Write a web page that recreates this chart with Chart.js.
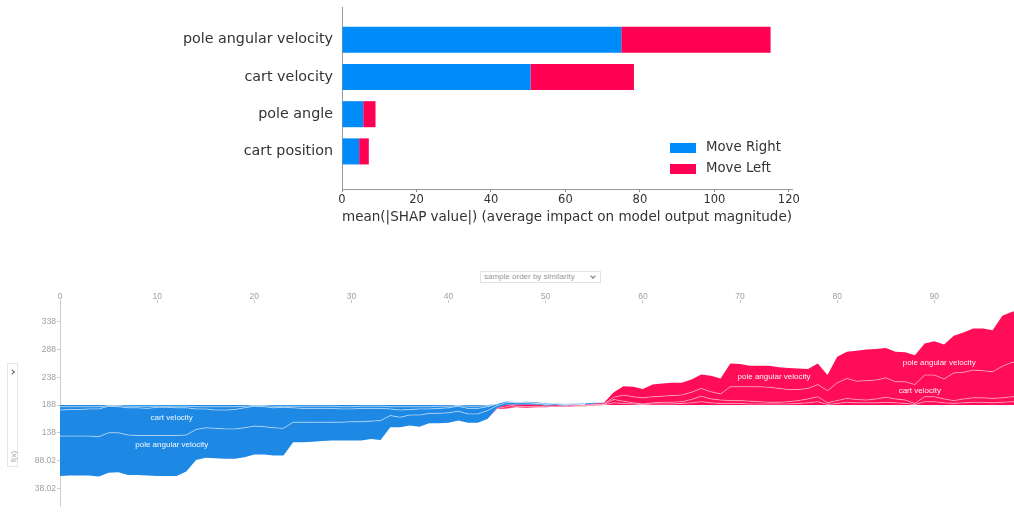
<!DOCTYPE html>
<html>
<head>
<meta charset="utf-8">
<title>SHAP summary and force plot</title>
<script src="https://cdn.jsdelivr.net/npm/chart.js@4.4.1/dist/chart.umd.min.js"></script>
<style>
  html, body { margin: 0; padding: 0; background: #fff; width: 1014px; height: 513px; overflow: hidden; }
  #bar { position: absolute; left: 0; top: 0; }
  #force { position: absolute; left: 0; top: 285px; }
  #order {
    position: absolute; left: 480px; top: 271px; width: 121px; height: 12px;
    border: 1px solid #e2e2e2; font: 8px "Liberation Sans", Arial, sans-serif; color: #999;
    line-height: 10px; padding-left: 3px; box-sizing: border-box;
  }
  #order .chev {
    position: absolute; right: 5px; top: 2px; width: 3px; height: 3px;
    border-right: 1px solid #777; border-bottom: 1px solid #777; transform: rotate(45deg);
  }
  #side {
    position: absolute; left: 7px; top: 363px; width: 11px; height: 104px;
    border: 1px solid #e6e6e6; box-sizing: border-box;
  }
  #side .chev {
    position: absolute; left: 2px; top: 6px; width: 3px; height: 3px;
    border-right: 1.5px solid #666; border-top: 1.5px solid #666; transform: rotate(45deg);
  }
  #side .fx {
    position: absolute; left: -5px; top: 88px; width: 20px; text-align: center;
    font: 8px "Liberation Sans", Arial, sans-serif; color: #aaa; transform: rotate(-90deg);
  }
</style>
</head>
<body>
<canvas id="bar" width="1014" height="228"></canvas>
<div id="order">sample order by similarity<span class="chev"></span></div>
<div id="side"><span class="chev"></span><span class="fx">f(x)</span></div>
<canvas id="force" width="1014" height="228"></canvas>
<script>
// ---- Summary bar chart: mean |SHAP| per feature and class ----
const features = ["pole angular velocity", "cart velocity", "pole angle", "cart position"];
const classNames = ["Move Right", "Move Left"];
const moveRight = [75.0, 50.6, 5.7, 4.6];
const moveLeft = [40.1, 27.8, 3.3, 2.6];
const barXTicks = [0, 20, 40, 60, 80, 100, 120];
const barXTitle = "mean(|SHAP value|) (average impact on model output magnitude)";

// ---- Force plot: per-sample SHAP values, samples ordered by similarity ----
const baseValue = 188.02;
const poleAngVel = [
  -72, -71, -71, -71, -72, -72, -71, -72, -71, -72,
  -73, -73, -73, -66, -55, -54, -54, -54, -54, -53,
  -51, -50, -50, -49, -36, -36, -35, -34, -33, -33,
  -34, -34, -32, -35, -21, -18, -19, -21, -18, -18,
  -18, -17, -16, -16, -15, -4, -4, -3, -3, -2,
  -2, -2, -1, -1, 1, 2, 2, 9, 16, 18,
  16, 22, 23, 23, 22, 23, 25, 29, 28, 42,
  41, 38, 38, 39, 38, 39, 38, 35, 38, 28,
  47, 48, 55, 56, 56, 54, 54, 53, 53, 57,
  61, 62, 67, 72, 75, 76, 75, 91, 91, 93
];
const cartVel = [
  -47, -48, -48, -49, -50, -48, -47, -49, -50, -49,
  -51, -51, -50, -49, -37, -34, -33, -34, -35, -36,
  -36, -36, -36, -38, -26, -25, -25, -25, -25, -24,
  -23, -24, -23, -22, -12, -13, -10, -11, -8, -9,
  -9, -9, -10, -10, -7, -3, -2, 3, 4, 3,
  2, 2, 1, 2, 1, 1, 1, 4, 11, 11,
  11, 11, 11, 12, 12, 13, 14, 13, 11, 25,
  25, 26, 27, 27, 25, 22, 20, 19, 22, 22,
  32, 36, 33, 35, 34, 35, 31, 33, 34, 39,
  39, 36, 50, 48, 50, 49, 48, 57, 62, 63
];
const poleAngle = [
  -6, -5, -5, -4, -4, -1, -2, -3, -3, -4,
  -2, -2, -3, -3, -4, -4, -6, -6, -5, -3,
  -1, -2, -3, -2, -3, -4, -4, -4, -4, -4,
  -4, -4, -4, -4, -4, -6, -5, -4, -4, -4,
  -3, -1, -4, -4, -2, 1, 4, 2, 2, 2,
  1, 1, 1, 1, 1, 1, 1, 6, 4, 2,
  1, 2, 3, 3, 3, 6, 10, 7, 6, 5,
  5, 5, 4, 3, 3, 4, 5, 7, 9, 3,
  5, 7, 6, 5, 7, 9, 7, 6, 2, 9,
  9, 7, 5, 7, 8, 8, 8, 8, 9, 9
];
const cartPos = [
  -3, -3, -3, -3, -3, -1, -1, -2, -2, -2,
  -2, -2, -2, -2, -3, -3, -3, -3, -3, -2,
  -1, -1, -2, -2, -2, -2, -2, -2, -2, -3,
  -3, -2, -2, -2, -3, -3, -3, -3, -3, -2,
  -2, -1, -2, -2, -1, 1, 3, -1, -2, -2,
  -2, -1, -2, -1, -2, -1, 0, 4, 3, 2,
  1, 2, 2, 2, 3, 4, 6, 4, 3, 3,
  3, 2, 2, 2, 2, 2, 3, 4, 6, 1,
  3, 5, 4, 4, 4, 5, 4, 3, 1, 6,
  6, 4, 3, 4, 5, 5, 4, 5, 6, 6
];
const forceXTicks = [0, 10, 20, 30, 40, 50, 60, 70, 80, 90];
const forceYTicks = [38.02, 88.02, 138.02, 188.02, 238.02, 288.02, 338.02];
const forceYTickLabels = ["38.02", "88.02", "138", "188", "238", "288", "338"];

// Feature names written inside the force plot bands
const areaLabels = [
  { text: "cart velocity", sample: 11.5, value: 165.5 },
  { text: "pole angular velocity", sample: 11.5, value: 116.5 },
  { text: "pole angular velocity", sample: 73.5, value: 238.5 },
  { text: "pole angular velocity", sample: 90.5, value: 265 },
  { text: "cart velocity", sample: 88.5, value: 214 }
];

const SHAP_BLUE_BAR = "#008BFB";
const SHAP_RED_BAR = "#FF0052";
const SHAP_BLUE = "#1E88E5";
const SHAP_RED = "#FF0D57";
const SANS = '"DejaVu Sans", sans-serif';
const WEBSANS = '"Liberation Sans", Arial, sans-serif';

// Legend drawn in the lower right corner of the plot area
const barLegend = {
  id: "barLegend",
  afterDraw(chart) {
    const { ctx, chartArea: a } = chart;
    ctx.save();
    ctx.font = "13.3px " + SANS;
    ctx.textBaseline = "middle";
    chart.data.datasets.forEach((ds, k) => {
      const y = a.bottom - 41 + k * 21;
      ctx.fillStyle = ds.backgroundColor;
      ctx.fillRect(a.right - 122, y - 5, 26, 10);
      ctx.fillStyle = "#333";
      ctx.fillText(ds.label, a.right - 86, y);
    });
    ctx.restore();
  }
};

const rowOf = i => features.length - 1 - i;

new Chart(document.getElementById("bar"), {
  type: "bar",
  data: {
    datasets: [
      { label: classNames[0], data: moveRight.map((v, i) => ({ x: v, y: rowOf(i) })),
        backgroundColor: SHAP_BLUE_BAR, categoryPercentage: 1, barPercentage: 0.7 },
      { label: classNames[1], data: moveLeft.map((v, i) => ({ x: v, y: rowOf(i) })),
        backgroundColor: SHAP_RED_BAR, categoryPercentage: 1, barPercentage: 0.7 }
    ]
  },
  options: {
    indexAxis: "y",
    responsive: false,
    animation: false,
    events: [],
    layout: { padding: { left: 0, right: 222, top: 7, bottom: 0 } },
    plugins: { legend: { display: false }, tooltip: { enabled: false } },
    scales: {
      x: {
        type: "linear", stacked: true, min: 0, max: 120.85,
        afterBuildTicks: s => { s.ticks = barXTicks.map(v => ({ value: v })); },
        afterFit: s => { s.height = 39; },
        grid: { drawOnChartArea: false, drawTicks: true, tickLength: 3, color: "#888" },
        border: { display: true, color: "#999", width: 1 },
        ticks: { font: { family: SANS, size: 11.5 }, color: "#333", padding: 1, maxRotation: 0 },
        title: { display: true, text: barXTitle, font: { family: SANS, size: 14.8 }, color: "#333",
                 padding: { top: 2, bottom: 1.5 } }
      },
      y: {
        type: "linear", stacked: true, min: -1.01, max: 3.88, offset: false,
        afterBuildTicks: s => { s.ticks = features.map((f, i) => ({ value: rowOf(i) })); },
        afterFit: s => { s.width = 342; s.paddingTop = 0; s.paddingBottom = 0; },
        grid: { drawOnChartArea: false, drawTicks: false, offset: false },
        border: { display: true, color: "#999", width: 1 },
        ticks: { callback: v => features[rowOf(v)], font: { family: SANS, size: 14.3 }, color: "#333", padding: 9 }
      }
    }
  },
  plugins: [barLegend]
});

// ---- Force plot stacks ----
const shapByFeature = [poleAngVel, cartVel, poleAngle, cartPos];
const samples = poleAngVel.map((_, i) => i);
const fx = samples.map(i => baseValue + shapByFeature.reduce((s, arr) => s + arr[i], 0));

// Boundaries of the bands: blue effects stack upward from f(x), red effects downward.
function stackLines(dir) {
  const lines = [fx.slice()];
  let cur = fx.slice();
  shapByFeature.forEach(arr => {
    cur = cur.map((v, i) => dir > 0 ? v + Math.max(0, -arr[i]) : v - Math.max(0, arr[i]));
    lines.push(cur);
  });
  return lines;
}
const blueLines = stackLines(1);
const redLines = stackLines(-1);

function isInner(lines, k, i) {
  const below = Math.abs(lines[k][i] - lines[0][i]);
  const above = Math.abs(lines[lines.length - 1][i] - lines[k][i]);
  return below > 0.01 && above > 0.01;
}

function sideDatasets(lines, color, sepColor) {
  return lines.map((vals, k) => {
    const ds = {
      data: vals.map((v, i) => ({ x: samples[i], y: v })),
      pointRadius: 0,
      tension: 0,
      borderWidth: 0,
      fill: false
    };
    if (k > 0) {
      ds.fill = "-1";
      ds.backgroundColor = color;
      if (k < lines.length - 1) {
        ds.borderWidth = 1;
        ds.borderColor = sepColor;
        ds.segment = {
          borderColor: c => (isInner(lines, k, c.p0DataIndex) || isInner(lines, k, c.p1DataIndex)) ? undefined : "rgba(0,0,0,0)"
        };
      }
    }
    return ds;
  });
}

const bandLabels = {
  id: "bandLabels",
  afterDatasetsDraw(chart) {
    const { ctx, scales: { x, y } } = chart;
    ctx.save();
    ctx.font = "8px " + WEBSANS;
    ctx.fillStyle = "rgba(255,255,255,0.95)";
    ctx.textAlign = "center";
    ctx.textBaseline = "middle";
    areaLabels.forEach(l => ctx.fillText(l.text, x.getPixelForValue(l.sample), y.getPixelForValue(l.value)));
    ctx.restore();
  }
};

new Chart(document.getElementById("force"), {
  type: "line",
  data: {
    datasets: [
      ...sideDatasets(blueLines, SHAP_BLUE, "rgba(255,255,255,0.5)"),
      ...sideDatasets(redLines, SHAP_RED, "rgba(255,255,255,0.45)")
    ]
  },
  options: {
    responsive: false,
    animation: false,
    events: [],
    layout: { padding: 0 },
    plugins: { legend: { display: false }, tooltip: { enabled: false } },
    scales: {
      x: {
        type: "linear", position: "top", min: 0, max: 98.2,
        afterBuildTicks: s => { s.ticks = forceXTicks.map(v => ({ value: v })); },
        afterFit: s => { s.height = 18; },
        grid: { drawOnChartArea: false, drawTicks: true, tickLength: 3, color: "#c8c8c8" },
        border: { display: false },
        ticks: { font: { family: WEBSANS, size: 8.5 }, color: "#a0a0a0", padding: -2, maxRotation: 0 }
      },
      y: {
        type: "linear", min: 4.4, max: 372,
        afterBuildTicks: s => { s.ticks = forceYTicks.map(v => ({ value: v })); },
        afterFit: s => { s.width = 60; },
        grid: { drawOnChartArea: false, drawTicks: true, tickLength: 3, color: "#c8c8c8" },
        border: { display: true, color: "#cfcfcf", width: 1 },
        ticks: {
          callback: v => forceYTickLabels[forceYTicks.indexOf(v)],
          font: { family: WEBSANS, size: 8.5 }, color: "#a0a0a0", padding: 1
        }
      }
    }
  },
  plugins: [bandLabels]
});
</script>
</body>
</html>
